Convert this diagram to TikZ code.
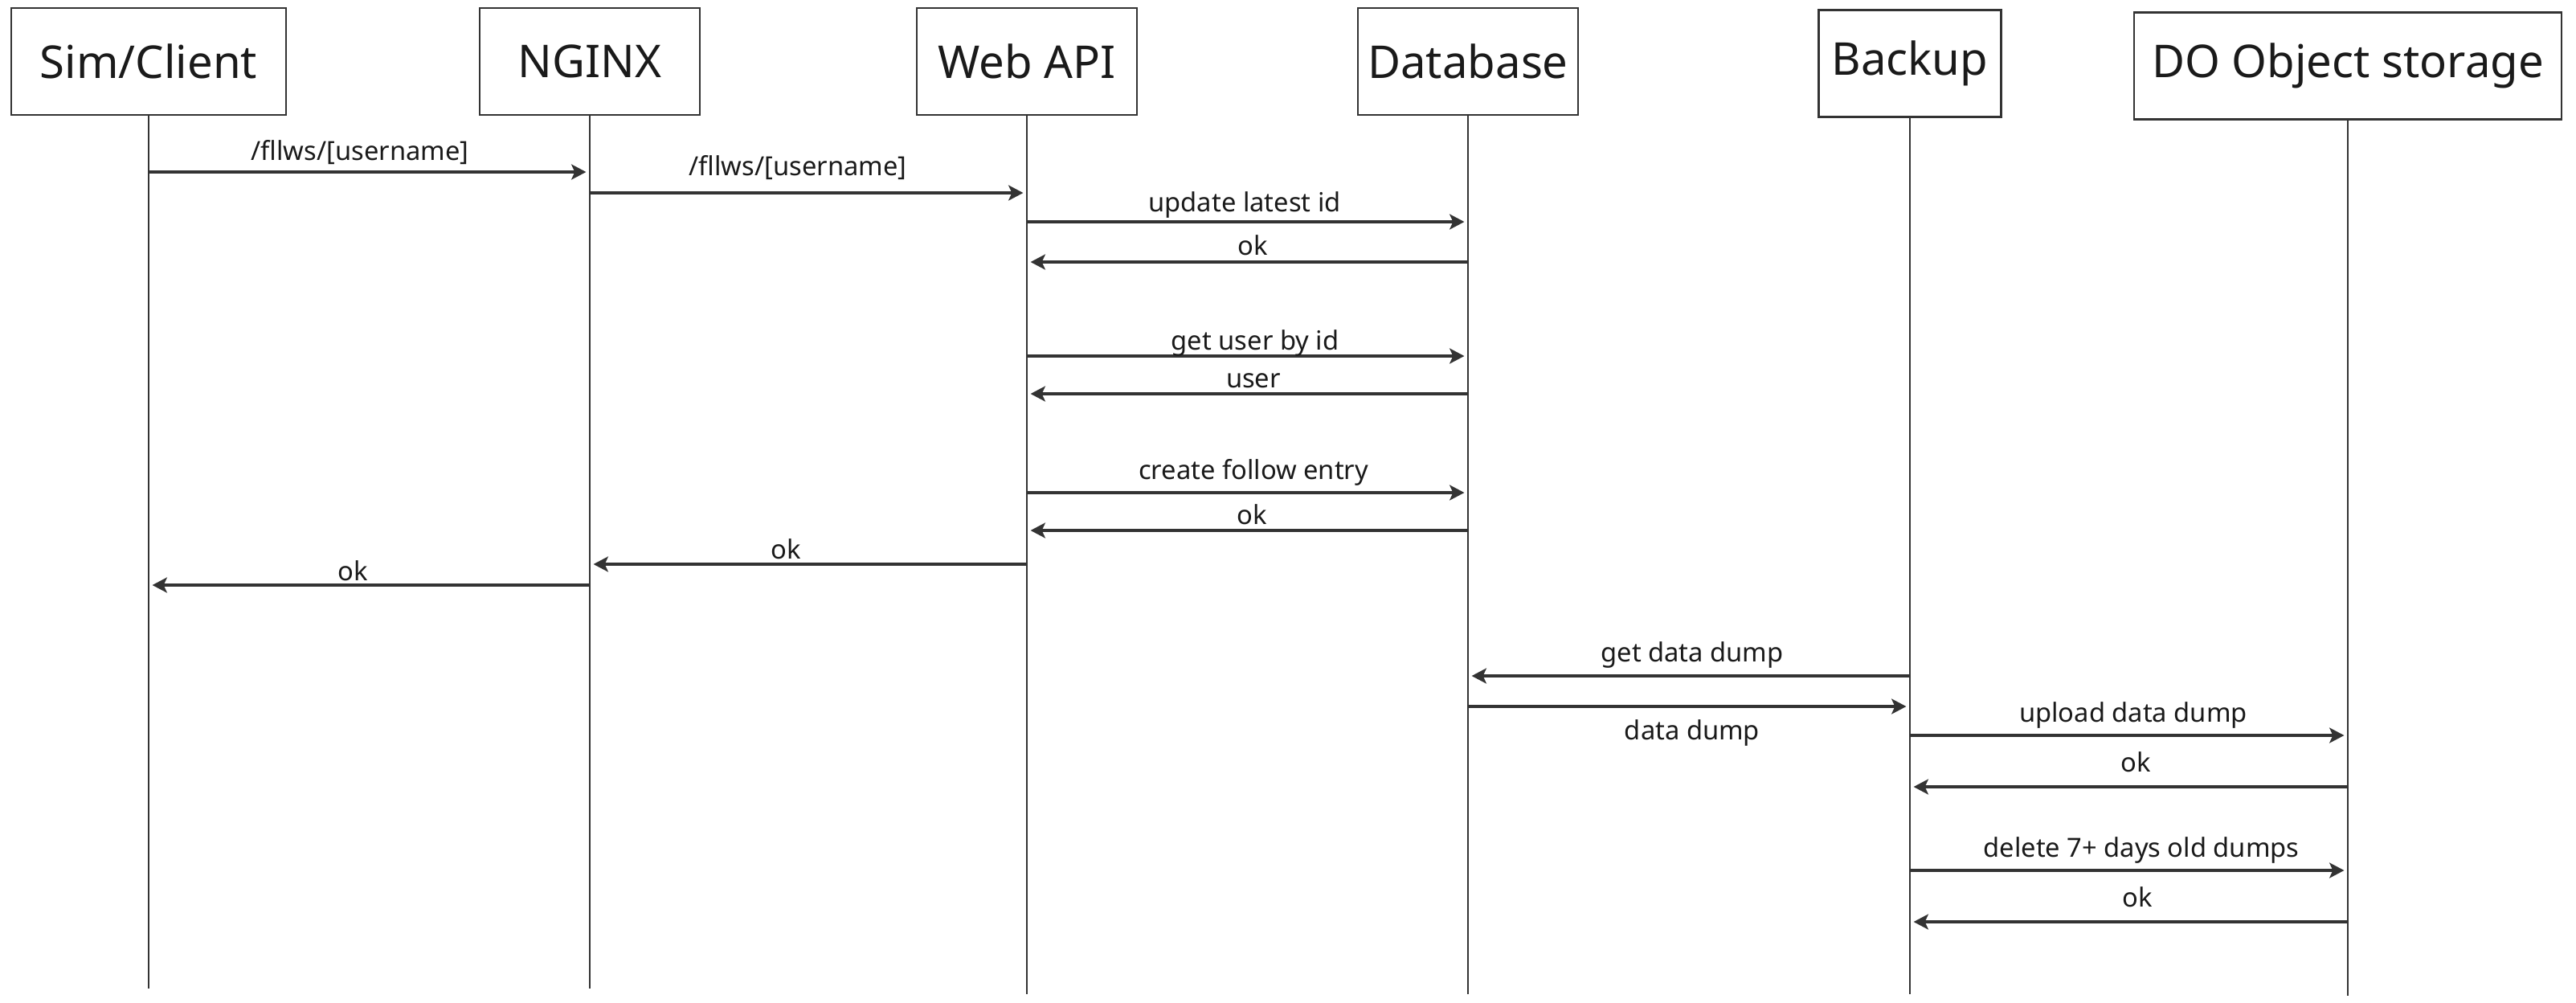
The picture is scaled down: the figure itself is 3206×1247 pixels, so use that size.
\documentclass[tikz,border=0pt]{standalone}
\usepackage{fontspec}
\setmainfont{Noto Sans}
\usetikzlibrary{arrows.meta}
\definecolor{ink}{HTML}{333333}
\definecolor{txt}{HTML}{1A1A1A}
\begin{document}
\begin{tikzpicture}[x=0.01cm,y=-0.01cm,
  actor/.style={draw=ink, line width=0.7pt, fill=white, minimum height=1.33cm, inner sep=0pt, font=\fontsize{16}{19}\selectfont, text=txt},
  life/.style={draw=ink, line width=0.45pt},
  msg/.style={draw=ink, line width=0.9pt, -{Stealth[length=5.2pt,width=5.4pt,inset=1.2pt]}, shorten >=1.3pt},
  lbl/.style={anchor=base, font=\fontsize{9.3}{11}\selectfont, text=txt, inner sep=0pt}]
\useasboundingbox (0,0) rectangle (3206,1247);
\fill[white] (0,0) rectangle (3206,1247);

% participants
\node[actor, minimum width=3.42cm] (sim)   at (185,76.5)  {Sim/Client};
\node[actor, minimum width=2.74cm] (nginx) at (734,76.5)  {NGINX};
\node[actor, minimum width=2.74cm] (web)   at (1278,76.5) {Web API};
\node[actor, minimum width=2.74cm] (db)    at (1827,76.5) {Database};
\node[actor, minimum width=2.27cm] (bak)   at (2377,79)   {Backup};
\node[actor, minimum width=5.32cm] (dos)   at (2922,82)   {DO Object storage};

% lifeline ends
\coordinate (ea) at (0,1230);
\coordinate (eb) at (0,1237);
\coordinate (ec) at (0,1239);
\draw[life] (sim.south)   -- (sim |- ea);
\draw[life] (nginx.south) -- (nginx |- ea);
\draw[life] (web.south)   -- (web |- eb);
\draw[life] (db.south)    -- (db |- eb);
\draw[life] (bak.south)   -- (bak |- eb);
\draw[life] (dos.south)   -- (dos |- ec);

% message rows
\coordinate (m1) at (0,214);
\coordinate (m2) at (0,240);
\coordinate (m3) at (0,276);
\coordinate (m4) at (0,326);
\coordinate (m5) at (0,443);
\coordinate (m6) at (0,490);
\coordinate (m7) at (0,613);
\coordinate (m8) at (0,660);
\coordinate (m9) at (0,702);
\coordinate (m10) at (0,728);
\coordinate (m11) at (0,841);
\coordinate (m12) at (0,879);
\coordinate (m13) at (0,915);
\coordinate (m14) at (0,979);
\coordinate (m15) at (0,1083);
\coordinate (m16) at (0,1147);

\draw[msg] (sim |- m1) -- (nginx |- m1);
\node[lbl] (l1) at (448,199) {/fllws/[username]};
\draw[msg] (nginx |- m2) -- (web |- m2);
\node[lbl] (l2) at (993,218) {/fllws/[username]};
\draw[msg] (web |- m3) -- (db |- m3);
\node[lbl] (l3) at (1549,263) {update latest id};
\draw[msg] (db |- m4) -- (web |- m4);
\node[lbl] (l4) at (1559,317) {ok};
\draw[msg] (web |- m5) -- (db |- m5);
\node[lbl] (l5) at (1562,435) {get user by id};
\draw[msg] (db |- m6) -- (web |- m6);
\node[lbl] (l6) at (1560,482) {user};
\draw[msg] (web |- m7) -- (db |- m7);
\node[lbl] (l7) at (1560,596) {create follow entry};
\draw[msg] (db |- m8) -- (web |- m8);
\node[lbl] (l8) at (1558,652) {ok};
\draw[msg] (web |- m9) -- (nginx |- m9);
\node[lbl] (l9) at (978,695) {ok};
\draw[msg] (nginx |- m10) -- (sim |- m10);
\node[lbl] (l10) at (439,722) {ok};
\draw[msg] (bak |- m11) -- (db |- m11);
\node[lbl] (l11) at (2106,823) {get data dump};
\draw[msg] (db |- m12) -- (bak |- m12);
\node[lbl] (l12) at (2106,920) {data dump};
\draw[msg] (bak |- m13) -- (dos |- m13);
\node[lbl] (l13) at (2655,898) {upload data dump};
\draw[msg] (dos |- m14) -- (bak |- m14);
\node[lbl] (l14) at (2658,960) {ok};
\draw[msg] (bak |- m15) -- (dos |- m15);
\node[lbl] (l15) at (2665,1066) {delete 7+ days old dumps};
\draw[msg] (dos |- m16) -- (bak |- m16);
\node[lbl] (l16) at (2660,1128) {ok};
\end{tikzpicture}
\end{document}
